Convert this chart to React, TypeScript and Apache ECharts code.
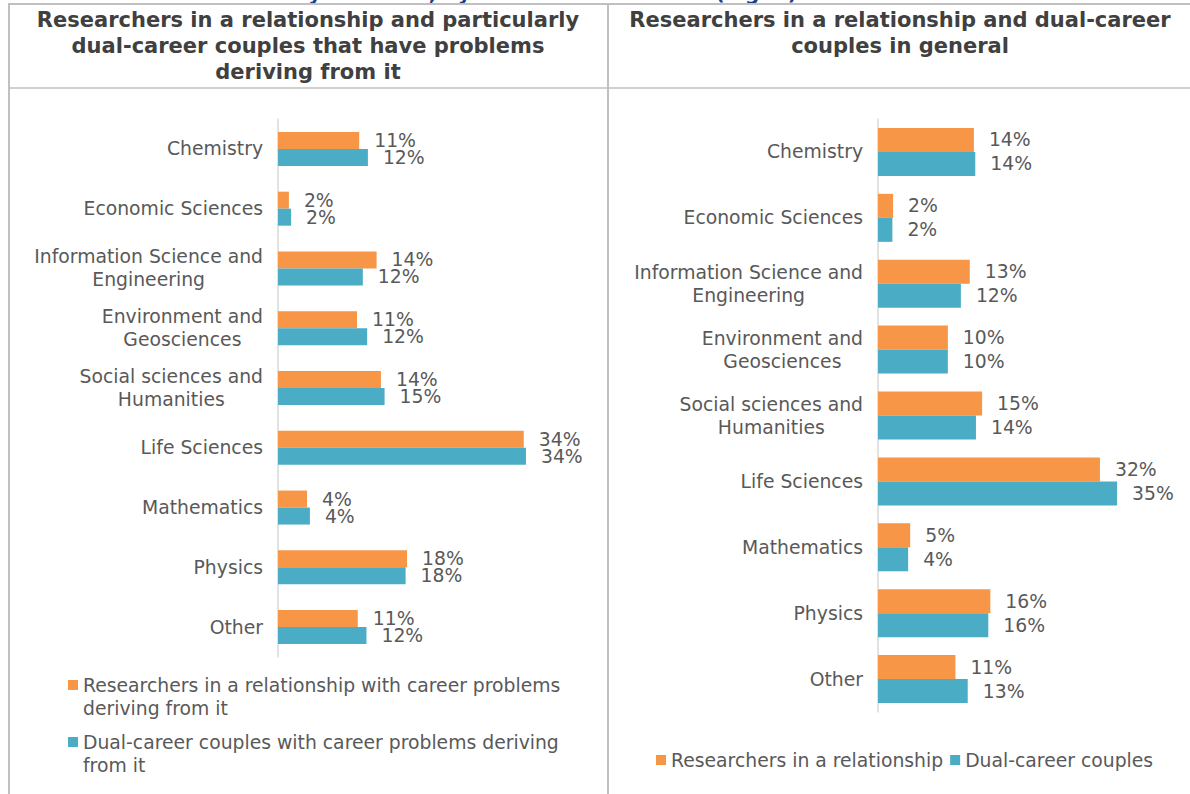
import React, { useEffect, useRef } from "react";
import * as echarts from "echarts";

const categories = [
  "Chemistry",
  "Economic Sciences",
  "Information Science and\nEngineering",
  "Environment and\nGeosciences",
  "Social sciences and\nHumanities",
  "Life Sciences",
  "Mathematics",
  "Physics",
  "Other",
];

const leftRelationship = [11.2, 1.5, 13.6, 10.9, 14.2, 33.9, 4.0, 17.8, 11.0];
const leftDualCareer = [12.4, 1.8, 11.7, 12.3, 14.7, 34.2, 4.4, 17.6, 12.2];
const rightRelationship = [14.0, 2.2, 13.4, 10.2, 15.2, 32.4, 4.7, 16.4, 11.3];
const rightDualCareer = [14.2, 2.1, 12.1, 10.2, 14.3, 34.9, 4.4, 16.1, 13.1];

const leftSeriesNames = [
  "Researchers in a relationship with career problems deriving from it",
  "Dual-career couples with career problems deriving from it",
];
const leftLegendLabels = [
  "Researchers in a relationship with career problems\nderiving from it",
  "Dual-career couples with career problems deriving\nfrom it",
];
const rightSeriesNames = ["Researchers in a relationship", "Dual-career couples"];

const leftTitle = "Researchers in a relationship and particularly\ndual-career couples that have problems\nderiving from it";
const rightTitle = "Researchers in a relationship and dual-career\ncouples in general";
const pageTitle = "Regardless of researchers' family situation, by their field of science (Fig. 5)";

const ORANGE = "#F79646";
const TEAL = "#4BACC6";
const GREY = "#595959";
const BORDER = "#c0c0c0";
const FONT = "DejaVu Sans";
const FS = 18.8;

export default function App() {
  const ref = useRef<HTMLDivElement>(null);
  useEffect(() => {
    if (!ref.current) return;
    const chart = echarts.init(ref.current, null, { renderer: "svg" });

    const label = {
      show: true,
      position: "right" as const,
      distance: 15,
      fontSize: FS,
      fontFamily: FONT,
      color: GREY,
      formatter: (p: any) => Math.round(p.value) + "%",
    };

    const yAxisBase = (gridIndex: number) => ({
      gridIndex,
      type: "category" as const,
      data: categories,
      inverse: true,
      axisLine: { show: true, lineStyle: { color: "#d9d9d9", width: 1.5 } },
      axisTick: { show: false },
      splitLine: { show: false },
      axisLabel: {
        margin: 15,
        align: "right" as const,
        formatter: (v: string) =>
          v
            .split("\n")
            .map((l) => `{c|${l}}`)
            .join("\n"),
        rich: {
          c: {
            align: "center",
            fontSize: FS,
            lineHeight: 23,
            fontFamily: FONT,
            color: GREY,
          },
        },
      },
    });

    const line = (x1: number, y1: number, x2: number, y2: number, w: number) => ({
      type: "line",
      silent: true,
      shape: { x1, y1, x2, y2 },
      style: { stroke: BORDER, lineWidth: w },
    });

    const titleStyle = {
      align: "center",
      verticalAlign: "top",
      fontSize: 21,
      lineHeight: 26,
      fontWeight: "bold",
      fontFamily: FONT,
      fill: "#404040",
    };

    chart.setOption({
      animation: false,
      backgroundColor: "#ffffff",
      graphic: [
        {
          type: "text",
          x: 797,
          y: 3,
          style: {
            text: pageTitle,
            align: "right",
            verticalAlign: "bottom",
            fontSize: 20,
            fontWeight: "bold",
            fontFamily: FONT,
            fill: "#1f3c88",
          },
        },
        line(8, 4, 1190, 4, 2),
        line(8, 88, 1190, 88, 1.5),
        line(9, 4, 9, 794, 2),
        line(608, 4, 608, 794, 2),
        { type: "text", x: 308, y: 7, style: { ...titleStyle, text: leftTitle } },
        { type: "text", x: 900, y: 7, style: { ...titleStyle, text: rightTitle } },
      ],
      grid: [
        { left: 278, top: 119, width: 290, height: 538 },
        { left: 878, top: 119, width: 274, height: 593 },
      ],
      xAxis: [
        { gridIndex: 0, type: "value", min: 0, max: 40, show: false },
        { gridIndex: 1, type: "value", min: 0, max: 40, show: false },
      ],
      yAxis: [yAxisBase(0), yAxisBase(1)],
      legend: [
        {
          orient: "vertical",
          left: 68,
          top: 673.5,
          padding: 0,
          itemWidth: 10,
          itemHeight: 33,
          itemGap: 11,
          icon: "path://M0,0L10,0L10,10L0,10Z M0,33L0.01,33L0.01,33.01Z",
          data: leftSeriesNames,
          formatter: (name: string) => leftLegendLabels[leftSeriesNames.indexOf(name)],
          textStyle: { fontSize: FS, lineHeight: 23, color: GREY, fontFamily: FONT },
        },
        {
          orient: "horizontal",
          left: 656,
          top: 748.5,
          padding: 0,
          itemWidth: 10,
          itemHeight: 10,
          itemGap: 7,
          icon: "rect",
          data: rightSeriesNames,
          textStyle: { fontSize: FS, lineHeight: 23, color: GREY, fontFamily: FONT },
        },
      ],
      series: [
        {
          type: "bar",
          name: leftSeriesNames[0],
          xAxisIndex: 0,
          yAxisIndex: 0,
          data: leftRelationship,
          barWidth: 17,
          barGap: "0%",
          itemStyle: { color: ORANGE },
          label,
        },
        {
          type: "bar",
          name: leftSeriesNames[1],
          xAxisIndex: 0,
          yAxisIndex: 0,
          data: leftDualCareer,
          barWidth: 17,
          barGap: "0%",
          itemStyle: { color: TEAL },
          label,
        },
        {
          type: "bar",
          name: rightSeriesNames[0],
          xAxisIndex: 1,
          yAxisIndex: 1,
          data: rightRelationship,
          barWidth: 24,
          barGap: "0%",
          itemStyle: { color: ORANGE },
          label,
        },
        {
          type: "bar",
          name: rightSeriesNames[1],
          xAxisIndex: 1,
          yAxisIndex: 1,
          data: rightDualCareer,
          barWidth: 24,
          barGap: "0%",
          itemStyle: { color: TEAL },
          label,
        },
      ],
    });
    return () => chart.dispose();
  }, []);

  return (
    <div
      ref={ref}
      style={{ position: "absolute", left: 0, top: 0, width: 1190, height: 794 }}
    />
  );
}
